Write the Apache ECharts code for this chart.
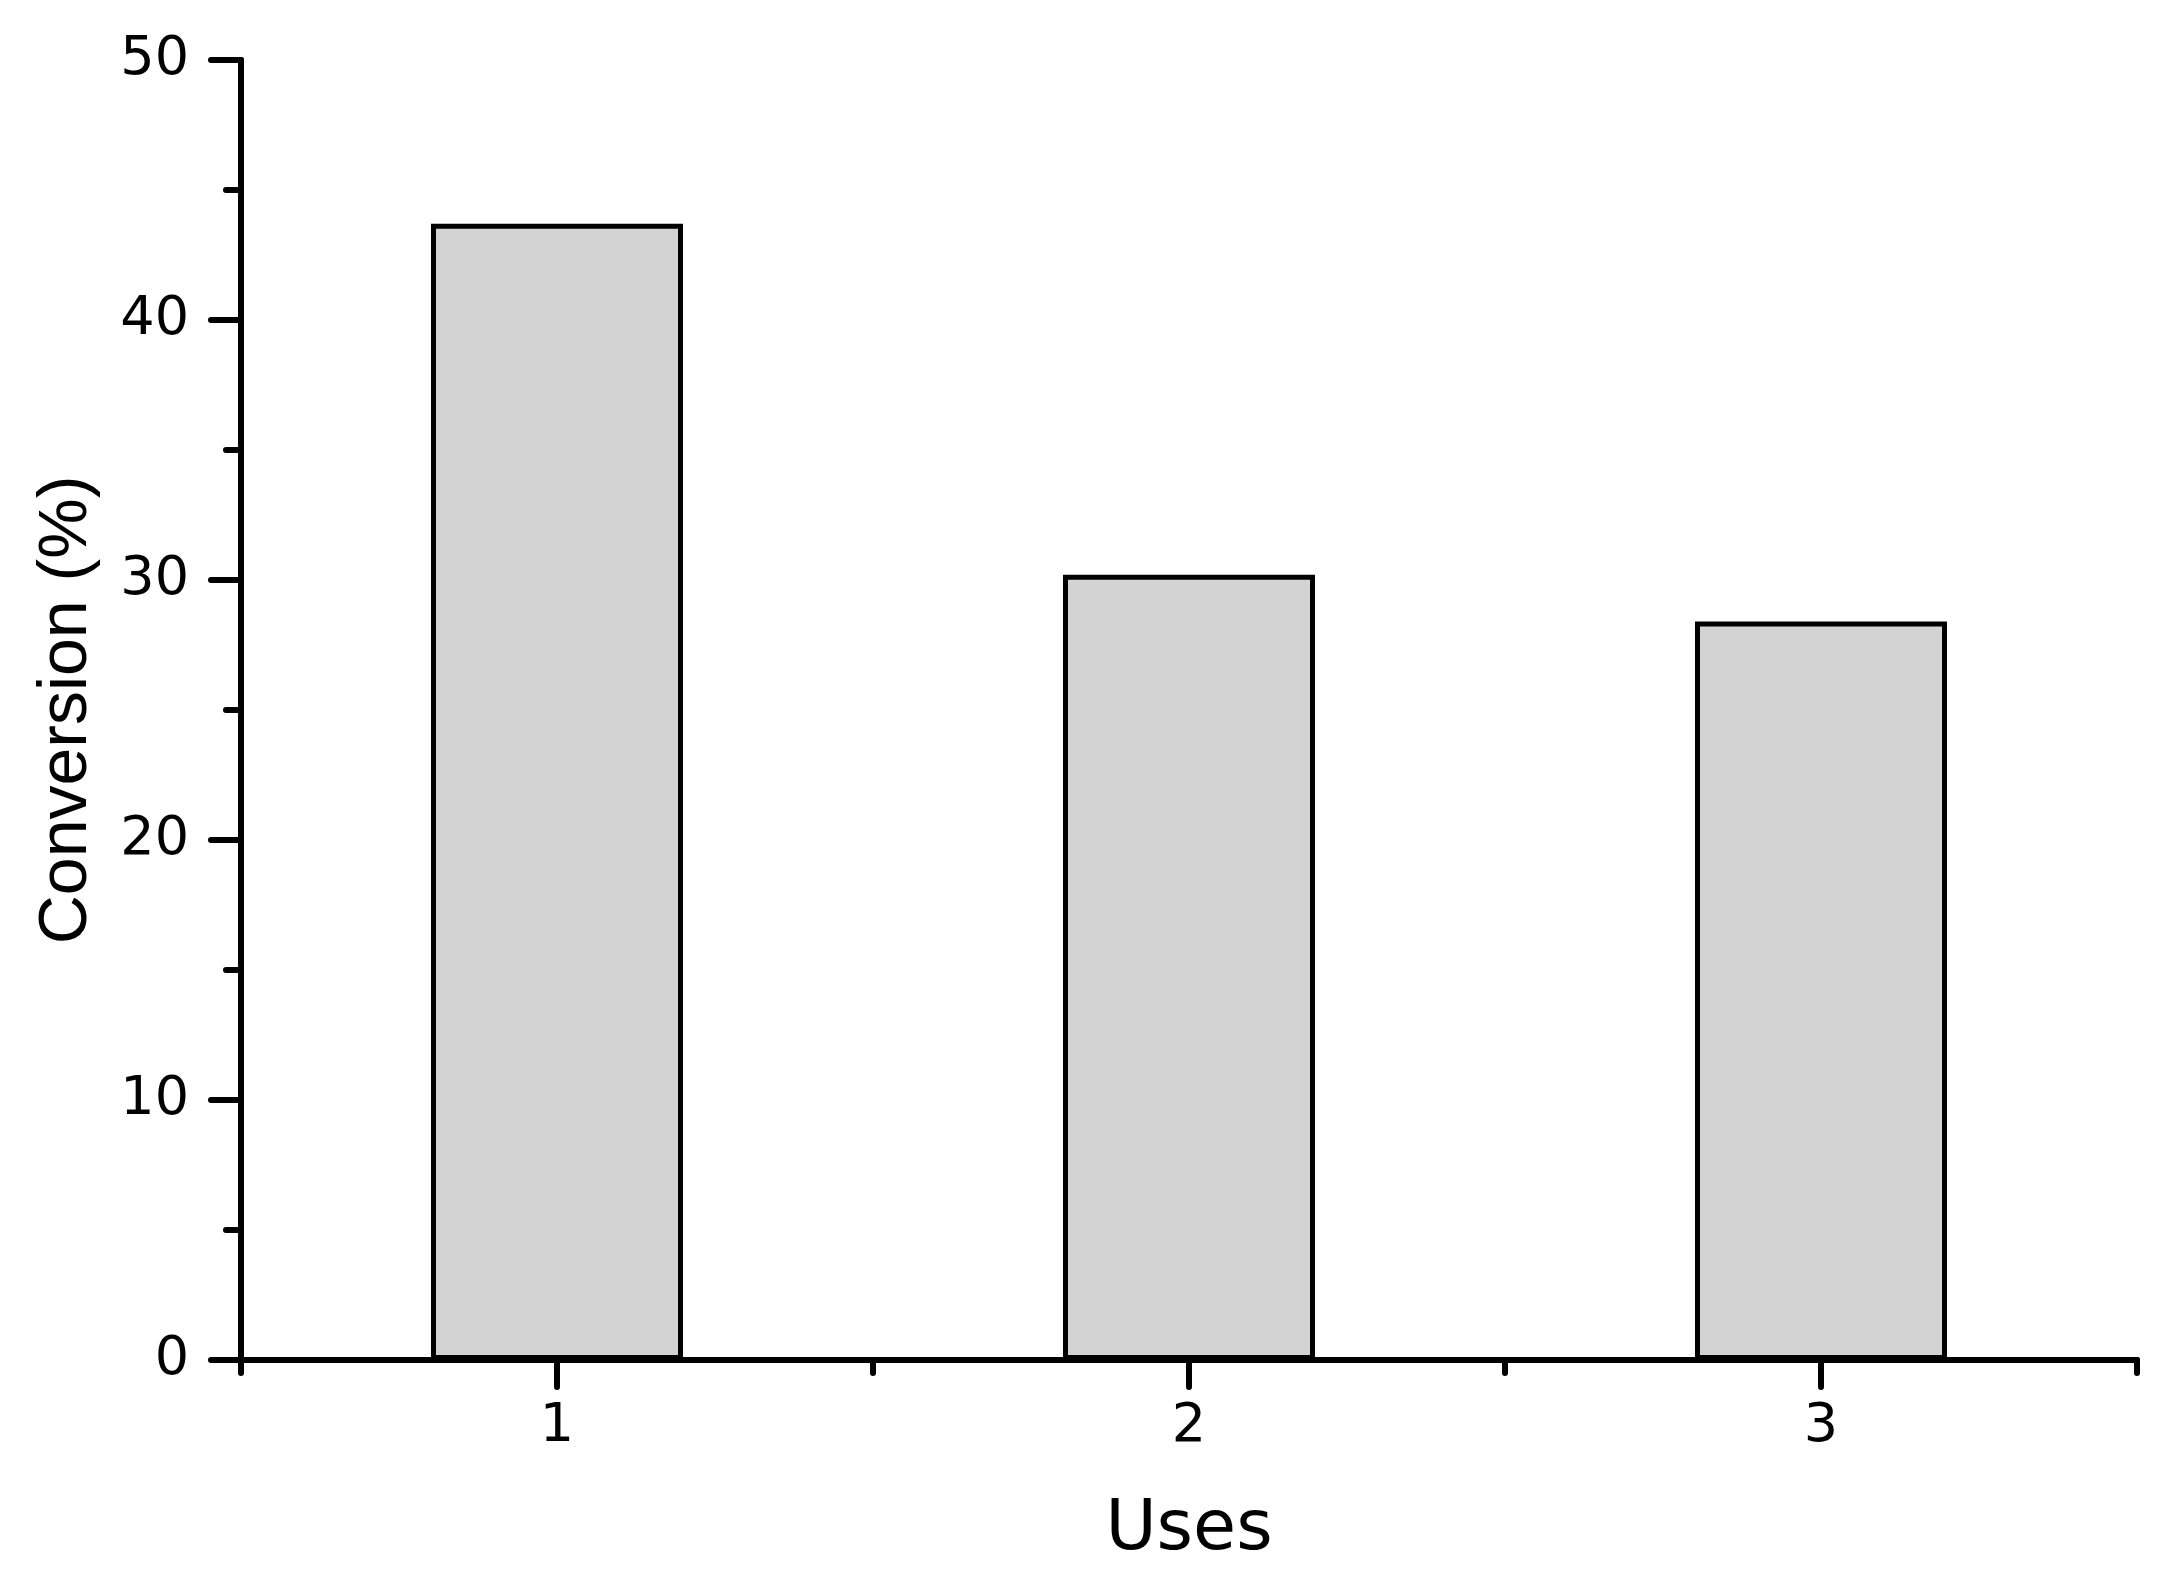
<!DOCTYPE html>
<html>
<head>
<meta charset="utf-8">
<script src="https://cdn.jsdelivr.net/npm/echarts@6/dist/echarts.min.js"></script>
<style>
  html, body { margin: 0; padding: 0; background: #fff; }
  #chart { width: 2180px; height: 1589px; }
</style>
</head>
<body>
<div id="chart"></div>
<script>
// values
const uses = ['1', '2', '3'];
const conversion = [43.7, 30.2, 28.4];
const yTicks = { min: 0, max: 50, interval: 10 };

const font = '"Liberation Sans", Arial, sans-serif';
const wideFont = '"DejaVu Sans", sans-serif';
const black = '#000';

const myChart = echarts.init(document.getElementById('chart'));

const option = {
  backgroundColor: '#fff',
  animation: false,
  grid: {
    left: 241,
    right: 43,
    top: 60,
    bottom: 229
  },
  xAxis: [
    {
      type: 'category',
      data: uses,
      position: 'bottom',
      name: 'Uses',
      nameLocation: 'middle',
      nameGap: 136,
      nameTextStyle: { color: black, fontSize: 70, fontFamily: wideFont },
      axisLine: { show: true, lineStyle: { color: black, width: 6 } },
      axisTick: {
        show: true,
        alignWithLabel: true,
        length: 27,
        lineStyle: { color: black, width: 6, cap: 'round' }
      },
      axisLabel: { color: black, fontSize: 54, fontFamily: wideFont, margin: 40 },
      splitLine: { show: false }
    },
    {
      // boundary ticks (half-way marks)
      type: 'category',
      data: uses,
      position: 'bottom',
      axisLine: { show: false },
      axisTick: { show: true, length: 13, lineStyle: { color: black, width: 6, cap: 'round' } },
      axisLabel: { show: false },
      splitLine: { show: false }
    }
  ],
  yAxis: {
    type: 'value',
    min: yTicks.min,
    max: yTicks.max,
    interval: yTicks.interval,
    name: 'Conversion (%)',
    nameLocation: 'middle',
    nameGap: 140,
    nameTextStyle: { color: black, fontSize: 68, fontFamily: font },
    axisLine: { show: true, lineStyle: { color: black, width: 6 } },
    axisTick: { show: true, length: 30, lineStyle: { color: black, width: 6, cap: 'round' } },
    minorTick: { show: true, splitNumber: 2, length: 15, lineStyle: { color: black, width: 6, cap: 'round' } },
    axisLabel: { color: black, fontSize: 54, fontFamily: wideFont, margin: 52 },
    splitLine: { show: false }
  },
  series: [
    {
      name: 'Conversion',
      type: 'bar',
      xAxisIndex: 0,
      barWidth: 252,
      data: conversion,
      itemStyle: {
        color: '#d3d3d3',
        borderColor: black,
        borderWidth: 5
      }
    }
  ]
};

myChart.setOption(option);
</script>
</body>
</html>
